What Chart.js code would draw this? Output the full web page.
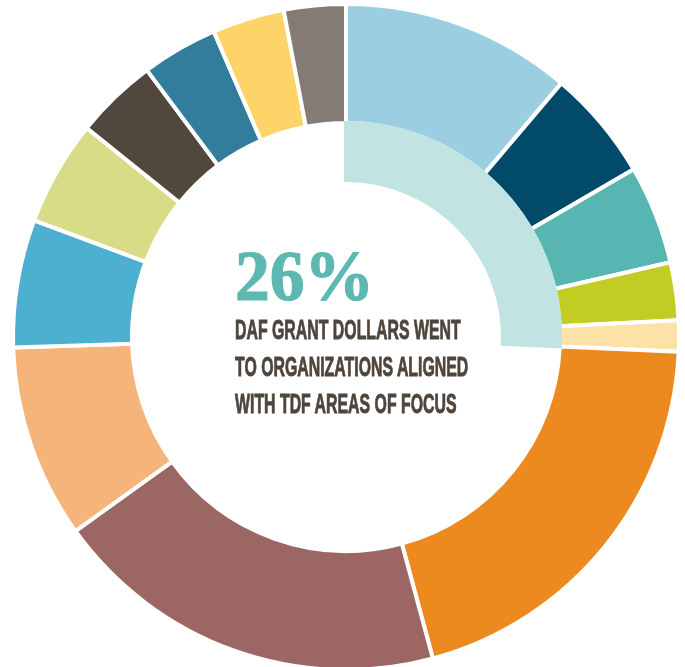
<!DOCTYPE html>
<html><head><meta charset="utf-8">
<script src="https://cdn.jsdelivr.net/npm/chart.js@4/dist/chart.umd.min.js"></script>
<style>
html,body{margin:0;padding:0;background:#fff;overflow:hidden;width:685px;height:667px;}
#wrap{position:absolute;left:0;top:0;width:685px;height:674px;}
.t{position:absolute;white-space:nowrap;transform-origin:0 0;}
.big{font-family:"Liberation Serif",serif;font-weight:bold;font-size:71px;line-height:71px;color:#5DB8B1;left:235px;top:240.5px;-webkit-text-stroke:1.2px #5DB8B1;}
.sub{font-family:"Liberation Sans Narrow","Liberation Sans",sans-serif;font-weight:bold;font-size:28px;line-height:28px;color:#4E453D;left:235px;-webkit-text-stroke:0.9px #4E453D;}
</style></head><body>
<div id="wrap"><canvas id="c"></canvas></div>
<div class="t big" id="pct"></div>
<div class="t sub" id="l1" style="top:316.3px"></div>
<div class="t sub" id="l2" style="top:353px"></div>
<div class="t sub" id="l3" style="top:389.6px"></div>
<script>
// ---- data ----
const categories = ['Area 1','Area 2','Area 3','Area 4','Area 5','Area 6','Area 7','Area 8','Area 9','Area 10','Area 11','Area 12','Area 13','Area 14'];
const shares = [11.2, 5.4, 4.8, 2.8, 1.5, 20.1, 19.3, 9.4, 6.2, 5.1, 4.0, 3.7, 3.5, 3.0];
const alignedLabels = ['Aligned with TDF areas of focus', 'Other'];
const alignedShare = [25.7, 74.3];
const headline = '26%';
const captionLines = ['DAF GRANT DOLLARS WENT', 'TO ORGANIZATIONS ALIGNED', 'WITH TDF AREAS OF FOCUS'];

// ---- styles ----
const palette = ['#9BCEE0','#014A69','#57B6B1','#C1CD22','#FDE2A8','#EC8A20','#9C6664','#F4B47A','#4DB0D0','#D9DC87','#51473D','#337D9C','#FED469','#857B75'];
const innerTeal = '#C1E3E2';

new Chart(document.getElementById('c'), {
  type: 'doughnut',
  data: {
    labels: categories,
    datasets: [
      { data: shares, backgroundColor: palette, borderColor: '#ffffff', borderWidth: 4, hoverBorderWidth: 4, weight: 119, order: 1 },
      { data: alignedShare, backgroundColor: [innerTeal, 'rgba(0,0,0,0)'], borderColor: [innerTeal, 'rgba(0,0,0,0)'], borderWidth: 4, hoverBorderWidth: 4, borderJoinStyle: 'miter', weight: 57, order: 0 }
    ]
  },
  options: {
    responsive: true,
    maintainAspectRatio: false,
    animation: false,
    events: [],
    cutout: 157,
    layout: { padding: { left: 11, right: 4, top: 2, bottom: 2 } },
    plugins: { legend: { display: false }, tooltip: { enabled: false } }
  }
});

// ---- center text ----
const pct = document.getElementById('pct');
pct.textContent = headline;
const lines = [document.getElementById('l1'), document.getElementById('l2'), document.getElementById('l3')];
captionLines.forEach((s, i) => { lines[i].textContent = s; });
const mc = document.createElement('canvas').getContext('2d');
mc.font = 'bold 28px "Liberation Sans Narrow"';
const sx = 227 / mc.measureText(captionLines[0]).width;
lines.forEach(el => { el.style.transform = 'scaleX(' + sx + ')'; });
mc.font = 'bold 71px "Liberation Serif"';
const px = 139 / mc.measureText(headline).width;
pct.style.transform = 'scaleX(' + px + ')';
</script>
</body></html>
